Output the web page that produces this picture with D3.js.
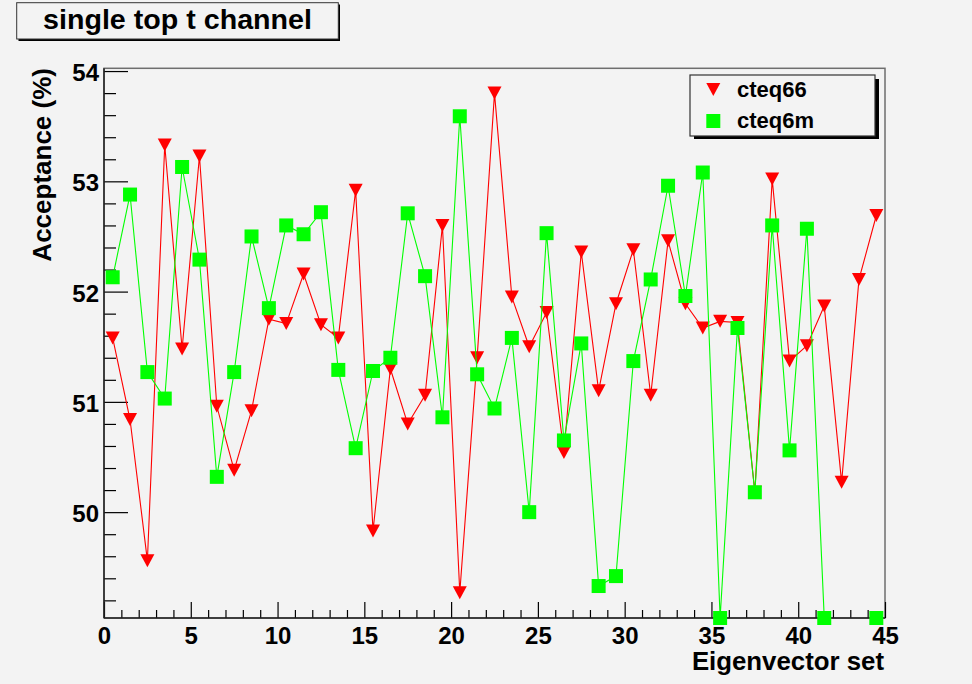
<!DOCTYPE html>
<html>
<head>
<meta charset="utf-8">
<script src="https://cdn.jsdelivr.net/npm/d3@7/dist/d3.min.js"></script>
<style>
  body { margin: 0; background: #f3f3f3; }
  text { font-family: "Liberation Sans", Arial, Helvetica, sans-serif; font-weight: bold; fill: #000; }
</style>
</head>
<body>
<svg id="chart" width="972" height="684"></svg>
<script>
// ---------------- data ----------------
const chartTitle = "single top t channel";
const xTitle = "Eigenvector set";
const yTitle = "Acceptance (%)";
const seriesNames = ["cteq66", "cteq6m"];
const eigenvectorSet = [0.5, 1.5, 2.5, 3.5, 4.5, 5.5, 6.5, 7.5, 8.5, 9.5,
  10.5, 11.5, 12.5, 13.5, 14.5, 15.5, 16.5, 17.5, 18.5, 19.5,
  20.5, 21.5, 22.5, 23.5, 24.5, 25.5, 26.5, 27.5, 28.5, 29.5,
  30.5, 31.5, 32.5, 33.5, 34.5, 35.5, 36.5, 37.5, 38.5, 39.5,
  40.5, 41.5, 42.5, 43.5, 44.5];
const cteq66 = [51.58, 50.84, 49.56, 53.33, 51.48, 53.23, 50.96, 50.38, 50.92, 51.75,
  51.71, 52.16, 51.70, 51.58, 52.92, 49.83, 51.30, 50.80, 51.06, 52.60,
  49.27, 51.40, 53.80, 51.95, 51.50, 51.81, 50.54, 52.36, 51.10, 51.89,
  52.38, 51.06, 52.46, 51.89, 51.67, 51.73, 51.72, 50.18, 53.02, 51.37,
  51.51, 51.87, 50.27, 52.11, 52.69];
const cteq6m = [52.13, 52.88, 51.27, 51.03, 53.13, 52.29, 50.32, 51.27, 52.50, 51.85,
  52.60, 52.52, 52.72, 51.29, 50.58, 51.28, 51.40, 52.71, 52.14, 50.86,
  53.59, 51.25, 50.94, 51.58, 50.00, 52.53, 50.65, 51.53, 49.33, 49.42,
  51.37, 52.11, 52.96, 51.96, 53.08, 49.04, 51.67, 50.18, 52.60, 50.56,
  52.57, 49.04, null, null, 49.04];
const xTickValues = [0, 5, 10, 15, 20, 25, 30, 35, 40, 45];
const xMinorTickValues = [1,2,3,4,6,7,8,9,11,12,13,14,16,17,18,19,21,22,23,24,26,27,28,29,31,32,33,34,36,37,38,39,41,42,43,44];
const yTickValues = [50, 51, 52, 53, 54];
const yMinorTickValues = [49.2, 49.4, 49.6, 49.8, 50.2, 50.4, 50.6, 50.8, 51.2, 51.4, 51.6, 51.8,
  52.2, 52.4, 52.6, 52.8, 53.2, 53.4, 53.6, 53.8];
const xDomain = [0, 45];
const yDomain = [49.04, 54.025];

// ---------------- layout ----------------
const bg = "#f3f3f3";
const L = 104, R = 885, T = 68.3, B = 618;
const svg = d3.select("#chart");
svg.append("rect").attr("width", 972).attr("height", 684).attr("fill", bg);

const x = d3.scaleLinear().domain(xDomain).range([L, R]);
const y = d3.scaleLinear().domain(yDomain).range([B, T]);

// frame
svg.append("rect").attr("x", L).attr("y", T).attr("width", R - L).attr("height", B - T)
  .attr("fill", bg).attr("stroke", "#6e6e6e").attr("stroke-width", 1.5);

// y axis: major with labels, minor without
const yAxis = d3.axisLeft(y).tickValues(yTickValues).tickSizeInner(-24).tickSizeOuter(0)
  .tickPadding(5).tickFormat(d3.format("d"));
const gy = svg.append("g").attr("transform", `translate(${L},0)`).call(yAxis);
gy.select(".domain").remove();
gy.selectAll("text").style("font-size", "24px").attr("dy", "0.4em");
const gyMinor = svg.append("g").attr("transform", `translate(${L},0)`)
  .call(d3.axisLeft(y).tickValues(yMinorTickValues).tickSizeInner(-12).tickSizeOuter(0).tickFormat(""));
gyMinor.select(".domain").remove();

// x axis
const xAxis = d3.axisBottom(x).tickValues(xTickValues).tickSizeInner(-16).tickSizeOuter(0)
  .tickPadding(8.7).tickFormat(d3.format("d"));
const gx = svg.append("g").attr("transform", `translate(0,${B})`).call(xAxis);
gx.select(".domain").remove();
gx.selectAll("text").style("font-size", "24px");
const gxMinor = svg.append("g").attr("transform", `translate(0,${B})`)
  .call(d3.axisBottom(x).tickValues(xMinorTickValues).tickSizeInner(-8).tickSizeOuter(0).tickFormat(""));
gxMinor.select(".domain").remove();
svg.selectAll(".tick line").attr("stroke", "#000").attr("stroke-width", 1.2);

// axis lines
svg.append("line").attr("x1", L).attr("x2", L).attr("y1", T).attr("y2", B).attr("stroke", "#222").attr("stroke-width", 1.5);
svg.append("line").attr("x1", L).attr("x2", R).attr("y1", B).attr("y2", B).attr("stroke", "#222").attr("stroke-width", 1.5);

// ---------------- series ----------------
const triPath = "M-7,-6.5L7,-6.5L0,6.5Z";
const sqSize = 14;

function drawSeries(values, color, marker) {
  const all = eigenvectorSet.map((xv, i) => ({ x: xv, v: values[i] }));
  const pts = all.filter(d => d.v != null);
  const line = d3.line().defined(d => d.v != null).x(d => x(d.x)).y(d => y(d.v));
  svg.append("path").datum(all).attr("d", line).attr("fill", "none")
    .attr("stroke", color).attr("stroke-width", 1.1);
  const g = svg.append("g");
  if (marker === "tri") {
    g.selectAll("path").data(pts).join("path")
      .attr("d", triPath)
      .attr("transform", d => `translate(${x(d.x)},${y(d.v)})`)
      .attr("fill", color);
  } else {
    g.selectAll("rect").data(pts).join("rect")
      .attr("x", d => x(d.x) - sqSize / 2).attr("y", d => y(d.v) - sqSize / 2)
      .attr("width", sqSize).attr("height", sqSize).attr("fill", color);
  }
}
drawSeries(cteq66, "#ff0000", "tri");
drawSeries(cteq6m, "#00ff00", "sq");

// ---------------- axis titles ----------------
svg.append("text").attr("x", 884).attr("y", 670).attr("text-anchor", "end")
  .style("font-size", "25.8px").text(xTitle);
svg.append("text").attr("transform", "translate(51,68) rotate(-90)").attr("text-anchor", "end")
  .style("font-size", "26px").text(yTitle);

// ---------------- title box ----------------
svg.append("rect").attr("x", 18.5).attr("y", 4.5).attr("width", 321.5).attr("height", 36.5).attr("fill", "#000");
svg.append("rect").attr("x", 16.7).attr("y", 2.7).attr("width", 321.6).attr("height", 36.3)
  .attr("fill", bg).attr("stroke", "#333").attr("stroke-width", 1);
svg.append("text").attr("x", 177.5).attr("y", 29).attr("text-anchor", "middle")
  .style("font-size", "27px").attr("textLength", 269).attr("lengthAdjust", "spacingAndGlyphs").text(chartTitle);

// ---------------- legend ----------------
const lg = svg.append("g");
lg.append("rect").attr("x", 694).attr("y", 79).attr("width", 185).attr("height", 60).attr("fill", "#000");
lg.append("rect").attr("x", 690).attr("y", 75).attr("width", 185).attr("height", 61)
  .attr("fill", bg).attr("stroke", "#333").attr("stroke-width", 1.2);
lg.append("path").attr("d", triPath).attr("transform", "translate(713.3,89.5)").attr("fill", "#ff0000");
lg.append("rect").attr("x", 713.3 - sqSize / 2).attr("y", 121 - sqSize / 2).attr("width", sqSize).attr("height", sqSize).attr("fill", "#00ff00");
lg.append("text").attr("x", 737).attr("y", 96.7).style("font-size", "22px").text(seriesNames[0]);
lg.append("text").attr("x", 737).attr("y", 128.3).style("font-size", "22px").text(seriesNames[1]);
</script>
</body>
</html>
